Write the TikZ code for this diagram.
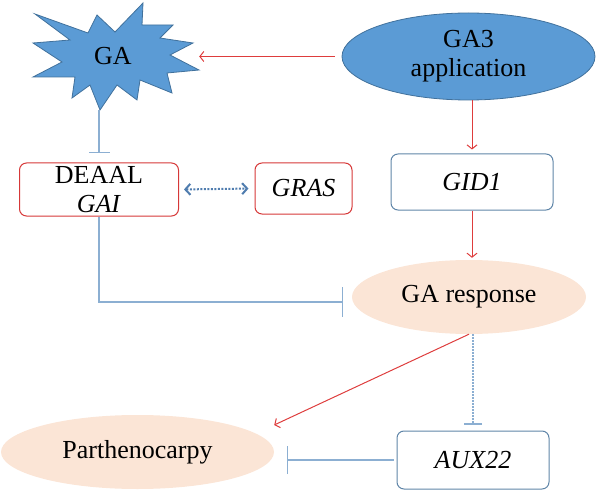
\documentclass[tikz,border=0pt]{standalone}
\usepackage{fontspec}
\setmainfont{LiberationSerif}[Extension=.ttf,UprightFont=*-Regular,ItalicFont=*-Italic,BoldFont=*-Bold]
\usetikzlibrary{arrows.meta,shapes.geometric,calc}
\definecolor{gablue}{RGB}{91,155,213}
\definecolor{gaedge}{RGB}{65,113,156}
\definecolor{peach}{RGB}{251,229,214}
\definecolor{arrred}{RGB}{222,61,61}
\definecolor{boxred}{RGB}{214,56,56}
\definecolor{boxblue}{RGB}{95,133,168}
\definecolor{inhblue}{RGB}{140,175,210}
\definecolor{dotblue}{RGB}{80,125,175}
\tikzset{
  lbl/.style={font=\fontsize{26}{29}\selectfont,align=center,inner sep=0pt},
  redbox/.style={lbl,draw=boxred,line width=1pt,rounded corners=7pt},
  bluebox/.style={lbl,draw=boxblue,line width=1pt,rounded corners=7pt},
  ovalblue/.style={lbl,ellipse,fill=gablue,draw=gaedge,line width=0.8pt},
  ovalpeach/.style={lbl,ellipse,fill=peach},
  act/.style={draw=arrred,line width=1pt,-{Straight Barb[length=4pt,width=10pt]}},
  inhib/.style={draw=inhblue,line width=1.2pt,-{Bar[width=#1]}},
  inhib/.default=21pt,
  inhibdot/.style={draw=inhblue,line width=2.5pt,dash pattern=on 1.5pt off 1.5pt,
    -{Bar[width=18pt,line width=1.2pt]}},
  bind/.style={draw=dotblue,line width=2pt,dash pattern=on 2pt off 1.5pt,
    {Straight Barb[length=5pt,width=11pt,line width=2pt]}-{Straight Barb[length=5pt,width=11pt,line width=2pt]}}
}
\begin{document}
\begin{tikzpicture}[x=1pt,y=-1pt]
  \useasboundingbox (0,0) rectangle (597,492);
  \filldraw[fill=gablue,draw=gaedge,line width=0.8pt] (35,14) -- (88,33) -- (97,15) -- (115,32)
    -- (143,3) -- (142,25) -- (173,25) -- (160,38) -- (193,43) -- (170,55) -- (199,70)
    -- (167,73) -- (172,93) -- (140,80) -- (137,100) -- (117,85) -- (100,110) -- (90,85)
    -- (72,98) -- (75,77) -- (33,77) -- (62,62) -- (33,43) -- (70,40) -- cycle;
  \node[lbl,minimum width=172pt,minimum height=107pt] (ga) at (113,56.5) {GA};
  \node[ovalblue,minimum width=253pt,minimum height=87pt] (ga3) at (468.5,56.5) {GA3\\application};
  \node[redbox,minimum width=159pt,minimum height=53pt] (gai) at (99,189.5) {DEAAL\\\textit{GAI}};
  \node[redbox,minimum width=97pt,minimum height=51pt] (gras) at (303.5,188.5) {\textit{GRAS}};
  \node[bluebox,minimum width=162pt,minimum height=56pt] (gid) at (472,182) {\textit{GID1}};
  \node[ovalpeach,minimum width=234pt,minimum height=74pt] (resp) at (469,297) {GA response};
  \node[ovalpeach,minimum width=273pt,minimum height=74pt] (parth) at (137.5,452) {Parthenocarpy};
  \node[bluebox,minimum width=152pt,minimum height=58pt] (aux) at (473,460) {\textit{AUX22}};

  \draw[act,shorten <=7pt] (ga3.west) -- (ga.east);
  \draw[act,shorten >=4pt] (ga3.south -| gid.north) -- (gid.north);
  \draw[act,shorten >=2pt] (gid.south) -- (gid.south |- resp.north);
  \draw[bind,shorten <=5pt,shorten >=6pt] (gai.east) -- (gras.west);
  \draw[inhib,shorten >=9pt] (ga.south -| gai.north) -- (gai.north);
  \draw[inhib=30pt,shorten >=9pt] (gai.south) |- ($(resp.west)+(0,5)$);
  \draw[act] (resp.south) -- ($(parth.east)+(0,-27)$);
  \draw[inhibdot,shorten >=6pt] (resp.south -| aux.north) -- (aux.north);
  \draw[inhib=28pt,shorten <=3pt,shorten >=13pt] (aux.west) -- (aux.west -| parth.east);
\end{tikzpicture}
\end{document}
